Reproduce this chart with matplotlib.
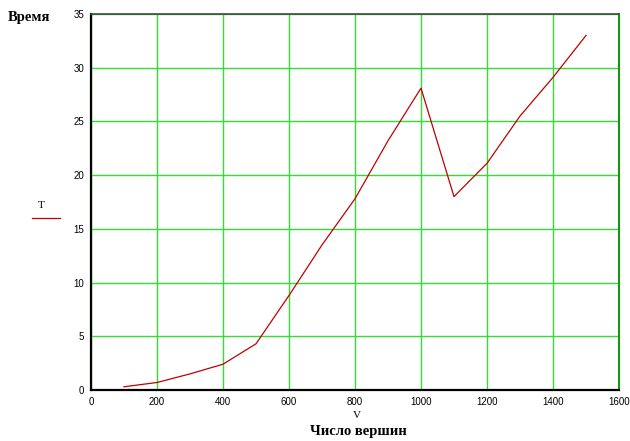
import matplotlib.pyplot as plt

# vertex count vs time
V = [100, 200, 300, 400, 500, 600, 700, 800, 900, 1000, 1100, 1200, 1300, 1400, 1500]
T = [0.3, 0.7, 1.5, 2.4, 4.3, 8.8, 13.5, 17.8, 23.2, 28.1, 18.0, 21.1, 25.5, 29.1, 33.0]

xticks = [0, 200, 400, 600, 800, 1000, 1200, 1400, 1600]
yticks = [0, 5, 10, 15, 20, 25, 30, 35]

fig = plt.figure(figsize=(6.3, 4.41), dpi=100)
ax = fig.add_axes([91 / 630, 1 - 390 / 441, 528 / 630, 376 / 441])

ax.plot(V, T, color='#c00000', lw=0.9, zorder=3)

ax.set_xlim(0, 1600)
ax.set_ylim(0, 35)
ax.set_xticks(xticks)
ax.set_yticks(yticks)
ax.grid(True, color='#33dd33', lw=1.0)
ax.tick_params(length=0, labelsize=7, pad=5)
for lab in ax.get_xticklabels() + ax.get_yticklabels():
    lab.set_family('Liberation Sans')
ax.spines['left'].set_linewidth(1.6)
ax.spines['bottom'].set_linewidth(1.6)
ax.spines['top'].set_linewidth(1.2)
ax.spines['top'].set_color('#444444')
ax.spines['right'].set_linewidth(1.5)
ax.spines['right'].set_color('#119911')

serif = 'Liberation Serif'
fig.text(8 / 630, 1 - 18 / 441, 'Время', family=serif, weight='bold', fontsize=10.5, va='center')
fig.text(38 / 630, 1 - 205 / 441, 'T', family=serif, fontsize=8, va='center')
fig.add_artist(plt.Line2D([32 / 630, 60 / 630], [1 - 218 / 441, 1 - 218 / 441], color='#c00000', lw=0.9))
fig.text(357 / 630, 1 - 416 / 441, 'V', family=serif, fontsize=8, ha='center', va='center')
fig.text(358 / 630, 1 - 432 / 441, 'Число вершин', family=serif, weight='bold', fontsize=10.5, ha='center', va='center')

fig.savefig('out.png', dpi=100)
